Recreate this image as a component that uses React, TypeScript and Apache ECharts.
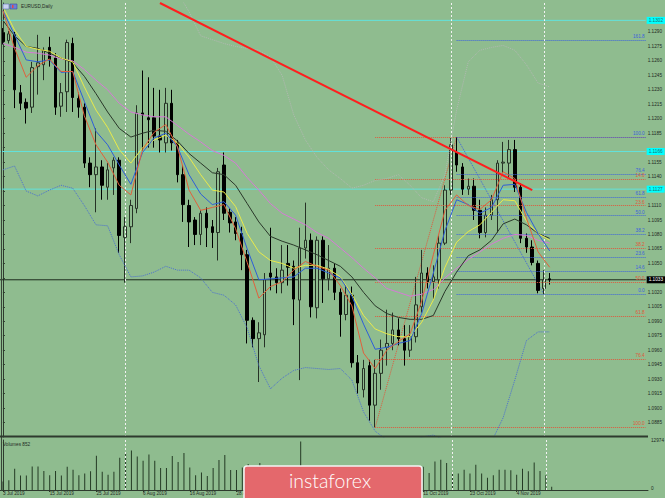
import React, { useEffect, useRef } from "react";
import * as echarts from "echarts";

const dates = [
  "3 Jul 2019","4 Jul 2019","5 Jul 2019","8 Jul 2019","9 Jul 2019","10 Jul 2019","11 Jul 2019","12 Jul 2019","15 Jul 2019","16 Jul 2019","17 Jul 2019","18 Jul 2019","19 Jul 2019","22 Jul 2019","23 Jul 2019","24 Jul 2019","25 Jul 2019","26 Jul 2019","29 Jul 2019","30 Jul 2019","31 Jul 2019",
  "1 Aug 2019","2 Aug 2019","5 Aug 2019","6 Aug 2019","7 Aug 2019","8 Aug 2019","9 Aug 2019","12 Aug 2019","13 Aug 2019","14 Aug 2019","15 Aug 2019","16 Aug 2019","19 Aug 2019","20 Aug 2019","21 Aug 2019","22 Aug 2019","23 Aug 2019","26 Aug 2019","27 Aug 2019","28 Aug 2019","29 Aug 2019","30 Aug 2019",
  "2 Sep 2019","3 Sep 2019","4 Sep 2019","5 Sep 2019","6 Sep 2019","9 Sep 2019","10 Sep 2019","11 Sep 2019","12 Sep 2019","13 Sep 2019","16 Sep 2019","17 Sep 2019","18 Sep 2019","19 Sep 2019","20 Sep 2019","23 Sep 2019","24 Sep 2019","25 Sep 2019","26 Sep 2019","27 Sep 2019","30 Sep 2019",
  "1 Oct 2019","2 Oct 2019","3 Oct 2019","4 Oct 2019","7 Oct 2019","8 Oct 2019","9 Oct 2019","10 Oct 2019","11 Oct 2019","14 Oct 2019","15 Oct 2019","16 Oct 2019","17 Oct 2019","18 Oct 2019","21 Oct 2019","22 Oct 2019","23 Oct 2019","24 Oct 2019","25 Oct 2019","28 Oct 2019","29 Oct 2019","30 Oct 2019","31 Oct 2019",
  "1 Nov 2019","4 Nov 2019","5 Nov 2019","6 Nov 2019","7 Nov 2019","8 Nov 2019","11 Nov 2019","12 Nov 2019",
];
// date labels hidden under the logo in the reference
const hiddenLabelBars = [48, 56, 64];

const opens = [
  1.1289,1.1281,1.1287,1.1227,1.1217,1.1212,1.1254,1.1256,1.1274,1.1263,
  1.1213,1.1228,1.1278,1.1221,1.1212,1.1154,1.1142,1.1150,1.1129,1.1149,
  1.1157,1.1077,1.1088,1.1107,1.1206,1.1201,1.1201,1.1182,1.1175,1.1216,
  1.1175,1.1142,1.1110,1.1095,1.1080,1.1102,1.1088,1.1082,1.1152,1.1103,
  1.1093,1.1081,1.1059,1.0991,1.0972,1.0976,1.1040,1.1036,1.1030,1.1050,
  1.1047,1.1012,1.1066,1.1074,1.1004,1.1074,1.1034,1.1045,1.1020,1.0997,
  1.1017,1.0947,1.0919,1.0944,1.0903,1.0936,1.0963,1.0967,1.0981,1.0972,
  1.0960,1.0974,1.1005,1.1040,1.1031,1.1033,1.1071,1.1126,1.1165,1.1150,
  1.1127,1.1130,1.1105,1.1082,1.1100,1.1116,1.1154,1.1154,1.1168,1.1129,
  1.1076,1.1067,1.1050,1.1024,1.1034,
];
const highs = [
  1.1294,1.1291,1.1290,1.1235,1.1221,1.1259,1.1287,1.1274,1.1285,1.1268,
  1.1237,1.1282,1.1284,1.1227,1.1216,1.1160,1.1190,1.1157,1.1154,1.1160,
  1.1160,1.1098,1.1116,1.1214,1.1250,1.1243,1.1232,1.1230,1.1232,1.1230,
  1.1178,1.1152,1.1116,1.1098,1.1105,1.1108,1.1095,1.1149,1.1165,1.1107,
  1.1098,1.1088,1.1064,1.0994,1.0989,1.1040,1.1087,1.1045,1.1069,1.1069,
  1.1053,1.1087,1.1113,1.1081,1.1078,1.1078,1.1069,1.1050,1.1024,1.1027,
  1.1026,1.0955,1.0950,1.0950,1.0950,1.0971,1.1002,1.0999,1.0993,1.0986,
  1.0986,1.1036,1.1064,1.1046,1.1048,1.1079,1.1131,1.1180,1.1181,1.1154,
  1.1138,1.1138,1.1116,1.1108,1.1121,1.1157,1.1176,1.1178,1.1178,1.1133,
  1.1081,1.1074,1.1053,1.1043,1.1040,
];
const lows = [
  1.1277,1.1278,1.1211,1.1209,1.1195,1.1206,1.1225,1.1240,1.1254,1.1204,
  1.1202,1.1207,1.1207,1.1201,1.1149,1.1129,1.1103,1.1116,1.1116,1.1121,
  1.1061,1.1030,1.1071,1.1102,1.1167,1.1170,1.1170,1.1165,1.1165,1.1167,
  1.1134,1.1093,1.1067,1.1069,1.1069,1.1067,1.1066,1.1053,1.1095,1.1082,
  1.1074,1.1043,1.0967,1.0963,1.0927,1.0963,1.1022,1.1019,1.1019,1.1027,
  1.0986,1.0929,1.1055,1.0994,1.0993,1.1009,1.1022,1.1012,1.0974,1.0991,
  1.0942,1.0915,1.0911,1.0887,1.0880,1.0919,1.0944,1.0960,1.0965,1.0944,
  1.0953,1.0968,1.0999,1.1024,1.1012,1.1024,1.1069,1.1121,1.1145,1.1121,
  1.1121,1.1095,1.1076,1.1077,1.1095,1.1082,1.1144,1.1139,1.1124,1.1071,
  1.1061,1.1048,1.1019,1.1018,1.1028,
];
const closes = [
  1.1280,1.1288,1.1230,1.1216,1.1211,1.1253,1.1258,1.1271,1.1261,1.1212,
  1.1227,1.1279,1.1222,1.1212,1.1154,1.1142,1.1150,1.1131,1.1147,1.1157,
  1.1079,1.1088,1.1110,1.1206,1.1204,1.1199,1.1182,1.1178,1.1216,1.1175,
  1.1142,1.1111,1.1093,1.1080,1.1102,1.1087,1.1082,1.1145,1.1102,1.1092,
  1.1081,1.1059,1.0991,1.0972,1.0978,1.1033,1.1036,1.1030,1.1043,1.1046,
  1.1013,1.1066,1.1074,1.1005,1.1074,1.1034,1.1045,1.1020,1.0997,1.1017,
  1.0947,1.0926,1.0941,1.0903,1.0936,1.0960,1.0967,1.0981,1.0972,1.0960,
  1.0974,1.1007,1.1040,1.1031,1.1036,1.1071,1.1126,1.1173,1.1152,1.1127,
  1.1130,1.1105,1.1082,1.1100,1.1116,1.1154,1.1155,1.1168,1.1129,1.1076,
  1.1067,1.1051,1.1022,1.1033,1.1033,
];
const volumes = [
  2260,2610,5720,3860,3860,6330,6330,5110,3940,5110,
  3860,6250,5450,3940,4390,5000,9180,4920,4120,4920,
  8650,9980,10590,8990,7850,9520,7850,5910,5910,9100,
  7500,9900,6060,3940,4660,3780,5910,8030,9360,5370,
  5370,6060,7000,5000,7240,6000,5500,4500,4800,5200,
  6000,12974,6200,5800,6100,6300,5600,5900,4800,4600,
  6300,5500,4500,5600,6400,6300,5200,4800,4200,4600,
  4300,5900,6200,4580,7660,8110,7240,4730,4390,5450,
  4390,6780,4390,3250,3940,5450,5450,5270,4120,5720,
  5000,7390,5110,3940,852,
];

const maBars = [0,2,4,6,8,10,12,14,16,18,20,22,24,26,28,30,32,34,36,38,40,42,44,46,48,50,52,54,56,58,60,62,64,66,68,70,72,74,76,78,80,82,84,86,88,90,92,94];
const maRed = [1.1312,1.1273,1.1243,1.1255,1.1262,1.1249,1.1249,1.1203,1.1173,1.1155,1.1131,1.1121,1.1168,1.1186,1.1194,1.1171,1.1126,1.1105,1.1108,1.1111,1.1086,1.1051,1.1014,1.1026,1.1031,1.1043,1.1052,1.1047,1.1043,1.1027,1.1006,1.0957,1.0941,1.0960,1.0969,1.0977,1.1011,1.1059,1.1105,1.1121,1.1110,1.1106,1.1116,1.1145,1.1138,1.1097,1.1062,1.1046];
const maBlue = [1.1312,1.1287,1.1261,1.1259,1.1261,1.1248,1.1249,1.1218,1.1187,1.1173,1.1152,1.1132,1.1165,1.1180,1.1185,1.1171,1.1142,1.1122,1.1111,1.1114,1.1100,1.1065,1.1033,1.1034,1.1035,1.1036,1.1045,1.1045,1.1040,1.1035,1.1016,1.0987,1.0961,1.0963,1.0967,1.0970,1.0998,1.1040,1.1084,1.1116,1.1111,1.1102,1.1108,1.1131,1.1132,1.1103,1.1081,1.1063];
const maYellow = [1.1316,1.1292,1.1275,1.1272,1.1270,1.1263,1.1259,1.1233,1.1209,1.1191,1.1168,1.1154,1.1170,1.1178,1.1183,1.1175,1.1160,1.1142,1.1126,1.1124,1.1109,1.1081,1.1062,1.1053,1.1050,1.1045,1.1048,1.1048,1.1044,1.1036,1.1018,1.0996,1.0982,1.0977,1.0974,1.0974,1.0989,1.1012,1.1046,1.1072,1.1083,1.1090,1.1103,1.1116,1.1115,1.1094,1.1081,1.1074];
const maDark = [1.1302,1.1286,1.1275,1.1273,1.1268,1.1263,1.1258,1.1244,1.1226,1.1207,1.1190,1.1181,1.1185,1.1188,1.1187,1.1177,1.1164,1.1154,1.1144,1.1142,1.1131,1.1112,1.1093,1.1078,1.1073,1.1069,1.1064,1.1059,1.1053,1.1047,1.1036,1.1020,1.1006,1.0998,1.0994,1.0992,1.0992,1.0996,1.1021,1.1041,1.1058,1.1064,1.1074,1.1091,1.1096,1.1090,1.1081,1.1076];
const maMagenta = [1.1278,1.1274,1.1269,1.1268,1.1266,1.1262,1.1260,1.1251,1.1240,1.1230,1.1216,1.1207,1.1204,1.1202,1.1202,1.1193,1.1184,1.1176,1.1167,1.1162,1.1154,1.1139,1.1126,1.1112,1.1102,1.1096,1.1090,1.1082,1.1076,1.1066,1.1056,1.1045,1.1035,1.1024,1.1020,1.1016,1.1018,1.1023,1.1035,1.1045,1.1054,1.1062,1.1070,1.1076,1.1080,1.1079,1.1074,1.1071];
const bandLower = [1.1147,1.1151,1.1125,1.1120,1.1126,1.1131,1.1128,1.1110,1.1090,1.1089,1.1059,1.1036,1.1037,1.1041,1.1047,1.1043,1.1043,1.1035,1.1020,1.1017,1.1007,1.0983,1.0944,1.0920,1.0931,1.0939,1.0942,1.0941,1.0940,1.0941,1.0929,1.0896,1.0876,1.0867,1.0862,1.0862,1.0870,1.0872,1.0867,1.0858,1.0854,1.0856,1.0865,1.0890,1.0929,1.0970,1.0979,1.0979];
const bandUpperBars = [28,30,32,34,36,38,40,42,44,46,48,50,52,54,56,58,60,62,64,66,68,70,72,74,76,78,80,82,84,86,88,90,92,94];
const bandUpper = [1.1349,1.1331,1.1311,1.1286,1.1282,1.1278,1.1275,1.1273,1.1271,1.1264,1.1245,1.1204,1.1178,1.1160,1.1147,1.1138,1.1128,1.1131,1.1136,1.1138,1.1142,1.1131,1.1118,1.1114,1.1142,1.1209,1.1259,1.1271,1.1274,1.1276,1.1271,1.1256,1.1237,1.1233];

const fibBlueLevels = [0, 14.6, 23.6, 38.2, 50, 61.8, 76.4, 100, 161.8];
const fibRedLevels = [0, 14.6, 23.6, 38.2, 50, 61.8, 76.4, 100];
const fibBlueFrom = 78; // high bar
const fibBlueTo = 93; // low bar
const fibRedFrom = 64; // low bar
const fibRedTo = 78; // high bar

const trendPoints: [number, number][] = [[27, 1.1320], [91, 1.1126]];
const hLines = [
  { value: 1.1302, color: "#62e2dc", box: "#00ffff", text: "1.1302", txt: "#1a6f6f" },
  { value: 1.1166, color: "#62e2dc", box: "#00ffff", text: "1.1166", txt: "#1a6f6f" },
  { value: 1.1127, color: "#62e2dc", box: "#00ffff", text: "1.1127", txt: "#1a6f6f" },
  { value: 1.1033, color: "#1d2b1d", box: "#000000", text: "1.1033", txt: "#ffffff" },
];
const vLineBars = [21, 77, 93];

const BG = "#8fbc8f";
const FONT = "Liberation Sans";
const FS = 4.7;
const N_SLOTS = 111;

function fmtLvl(l: number) {
  return l.toFixed(1);
}

export default function App() {
  const ref = useRef<HTMLDivElement>(null);
  useEffect(() => {
    if (!ref.current) return;
    const chart = echarts.init(ref.current, undefined, { renderer: "svg" });
    const cats = dates.concat(new Array(N_SLOTS - dates.length).fill(""));
    const candleData = opens.map((o, i) => [o, closes[i], lows[i], highs[i]]);
    const pairs = (xs: number[], ys: number[]) => xs.map((x, i) => [x, ys[i]]);
    const labelEvery = (i: number) => i % 8 === 0 && i < dates.length && hiddenLabelBars.indexOf(i) < 0;
    const tickEvery = (i: number) => i % 8 === 0 && i < dates.length;
    // axis labels that sit under a line's price box are covered in the reference
    const priceLabel = (v: number) =>
      hLines.some((h) => Math.abs(h.value - v) < 0.0004) ? "" : v.toFixed(4);

    const bHigh = highs[fibBlueFrom];
    const bLow = lows[fibBlueTo];
    const rLow = lows[fibRedFrom];
    const rHigh = highs[fibRedTo];

    const maLine = (name: string, xs: number[], ys: number[], color: string, type: any = "solid") => ({
      name,
      type: "line",
      xAxisIndex: 2,
      yAxisIndex: 0,
      data: pairs(xs, ys),
      symbol: "none",
      silent: true,
      lineStyle: { color, width: 1, type },
      z: 6,
    });

    const hLineSeries = hLines.map((h) => ({
      name: "H " + h.text,
      type: "line",
      xAxisIndex: 2,
      yAxisIndex: 0,
      data: [[-0.5, h.value], [N_SLOTS - 0.5, h.value]],
      symbol: "none",
      silent: true,
      lineStyle: { color: h.color, width: 1 },
      z: 2,
      endLabel: {
        show: true, formatter: h.text, backgroundColor: h.box, color: h.txt,
        fontSize: FS, fontFamily: FONT, padding: [1, 2, 1, 2], distance: 1,
      },
    }));

    const option: any = {
      animation: false,
      backgroundColor: BG,
      grid: [
        { left: 0, top: 3, width: 648, height: 434 },
        { left: 0, top: 440, width: 648, height: 50 },
      ],
      xAxis: [
        { type: "category", gridIndex: 0, data: cats, boundaryGap: true, show: false },
        {
          type: "category", gridIndex: 1, data: cats, boundaryGap: true,
          axisLine: { show: true, lineStyle: { color: "#2e3b2e", width: 1 } },
          axisTick: { show: true, length: 2, interval: tickEvery, alignWithLabel: true, lineStyle: { color: "#2e3b2e" } },
          axisLabel: { interval: labelEvery, fontSize: FS, fontFamily: FONT, color: "#1f2a1f", align: "left", margin: 1 },
          splitLine: { show: false },
        },
        { type: "value", gridIndex: 0, min: -0.5, max: N_SLOTS - 0.5, show: false },
        { type: "value", gridIndex: 1, min: -0.5, max: N_SLOTS - 0.5, show: false },
      ],
      yAxis: [
        {
          type: "value", gridIndex: 0, position: "right", min: 1.087, max: 1.132, interval: 0.0015,
          axisLine: { show: true, lineStyle: { color: "#2e3b2e" } },
          axisTick: { show: true, length: 2, lineStyle: { color: "#2e3b2e" } },
          axisLabel: { fontSize: FS, fontFamily: FONT, color: "#1f2a1f", margin: 2, showMinLabel: false, showMaxLabel: false, formatter: priceLabel },
          splitLine: { show: false },
        },
        {
          type: "value", gridIndex: 1, position: "right", min: 0, max: 13400,
          axisLine: { show: true, lineStyle: { color: "#2e3b2e" } },
          axisTick: { show: false }, axisLabel: { show: false }, splitLine: { show: false },
        },
      ],
      series: [
        {
          name: "EURUSD",
          type: "candlestick",
          xAxisIndex: 0, yAxisIndex: 0,
          data: candleData,
          barWidth: 3,
          silent: true,
          itemStyle: { color: BG, color0: "#000000", borderColor: "#263226", borderColor0: "#000000", borderWidth: 1 },
          z: 4,
        },
        {
          name: "Volumes",
          type: "bar",
          xAxisIndex: 1, yAxisIndex: 1,
          data: volumes,
          barWidth: 1,
          silent: true,
          itemStyle: { color: "#243a24" },
        },
        ...hLineSeries,
        maLine("MA magenta", maBars, maMagenta, "#d77ad7"),
        maLine("MA dark", maBars, maDark, "#2a382a"),
        maLine("MA yellow", maBars, maYellow, "#eaea4a"),
        maLine("MA blue", maBars, maBlue, "#2e5ed8"),
        maLine("MA red", maBars, maRed, "#e0603c"),
        maLine("Band lower", maBars, bandLower, "#4b6fd0", "dotted"),
        maLine("Band upper", bandUpperBars, bandUpper, "#b2b8b2", "dotted"),
        {
          name: "Trend",
          type: "line", xAxisIndex: 2, yAxisIndex: 0,
          data: trendPoints, symbol: "none", silent: true,
          lineStyle: { color: "#ff1e1e", width: 2 }, z: 8,
        },
        {
          name: "Fibo red",
          type: "line", xAxisIndex: 2, yAxisIndex: 0,
          data: [[fibRedFrom, rLow], [fibRedTo, rHigh]], symbol: "none", silent: true,
          lineStyle: { color: "#e0583c", width: 1, type: "dotted" }, z: 3,
          markLine: {
            silent: true, symbol: ["none", "none"], animation: false,
            lineStyle: { color: "#e0583c", width: 1, type: "dotted" },
            data: fibRedLevels.map((l) => [
              { coord: [fibRedFrom, rHigh - (rHigh - rLow) * l / 100] },
              {
                coord: [N_SLOTS - 0.5, rHigh - (rHigh - rLow) * l / 100],
                label: { show: l !== 0, position: "insideEndTop", formatter: fmtLvl(l), color: "#e0583c", fontSize: FS, fontFamily: FONT, distance: 1 },
              },
            ]),
          },
        },
        {
          name: "Fibo blue",
          type: "line", xAxisIndex: 2, yAxisIndex: 0,
          data: [[fibBlueFrom, bHigh], [fibBlueTo, bLow]], symbol: "none", silent: true,
          lineStyle: { color: "#3d63dc", width: 1, type: "dotted" }, z: 3,
          markLine: {
            silent: true, symbol: ["none", "none"], animation: false,
            lineStyle: { color: "#3d63dc", width: 1, type: "dotted" },
            data: fibBlueLevels.map((l) => [
              { coord: [fibBlueFrom, bLow + (bHigh - bLow) * l / 100] },
              {
                coord: [N_SLOTS - 0.5, bLow + (bHigh - bLow) * l / 100],
                label: { show: true, position: "insideEndTop", formatter: fmtLvl(l), color: "#3d63dc", fontSize: FS, fontFamily: FONT, distance: 1 },
              },
            ]),
          },
        },
        {
          name: "VLines",
          type: "line", xAxisIndex: 2, yAxisIndex: 0, data: [[0, 1.1]], symbol: "none", silent: true,
          lineStyle: { opacity: 0 },
          markLine: {
            silent: true, symbol: ["none", "none"], animation: false, label: { show: false },
            lineStyle: { color: "#f2f2f2", width: 1, type: [2, 2] },
            data: vLineBars.map((b) => ({ xAxis: b })),
          },
        },
        {
          name: "VLines vol",
          type: "line", xAxisIndex: 3, yAxisIndex: 1, data: [[0, 0]], symbol: "none", silent: true,
          lineStyle: { opacity: 0 },
          markLine: {
            silent: true, symbol: ["none", "none"], animation: false, label: { show: false },
            lineStyle: { color: "#f2f2f2", width: 1, type: [2, 2] },
            data: vLineBars.map((b) => ({ xAxis: b })),
          },
        },
      ],
      graphic: [
        { type: "line", shape: { x1: 1.5, y1: 0, x2: 1.5, y2: 491 }, style: { stroke: "#3a463a", lineWidth: 1 }, z: 50 },
        { type: "rect", shape: { x: 0, y: 435.5, width: 648, height: 2 }, style: { fill: "#2e3a2e" }, z: 50 },
        { type: "rect", shape: { x: 3, y: 4, width: 6, height: 5 }, style: { fill: "#c9d4ef", stroke: "#5a6ab0", lineWidth: 0.6 }, z: 50 },
        { type: "rect", shape: { x: 10, y: 4, width: 7, height: 5 }, style: { fill: "#6b7fd8", stroke: "#3d4c9c", lineWidth: 0.6 }, z: 50 },
        { type: "rect", shape: { x: 12, y: 5, width: 1.5, height: 3 }, style: { fill: "#e04848" }, z: 51 },
        { type: "text", x: 21, y: 6.5, style: { text: "EURUSD,Daily", fill: "#1f2a1f", fontSize: FS, fontFamily: FONT, verticalAlign: "middle" }, z: 50 },
        { type: "text", x: 3, y: 444, style: { text: "Volumes 852", fill: "#1f2a1f", fontSize: FS, fontFamily: FONT, verticalAlign: "middle" }, z: 50 },
        { type: "text", x: 651, y: 440.5, style: { text: "12974", fill: "#1f2a1f", fontSize: FS, fontFamily: FONT, verticalAlign: "middle" }, z: 50 },
        { type: "text", x: 651, y: 488.5, style: { text: "0", fill: "#1f2a1f", fontSize: FS, fontFamily: FONT, verticalAlign: "middle" }, z: 50 },
        { type: "rect", shape: { x: 244, y: 466, width: 178, height: 40, r: 3 }, style: { fill: "#e4686c", stroke: "#f3f3f3", lineWidth: 1.5 }, z: 100 },
        { type: "text", x: 289, y: 480.5, style: { text: "instaforex", fill: "#ffffff", fontSize: 19.5, fontFamily: "Lato", fontWeight: 300, verticalAlign: "middle" }, z: 101 },
      ],
    };
    chart.setOption(option);
    return () => chart.dispose();
  }, []);
  return <div ref={ref} style={{ position: "absolute", left: 0, top: 0, width: 665, height: 498 }} />;
}
